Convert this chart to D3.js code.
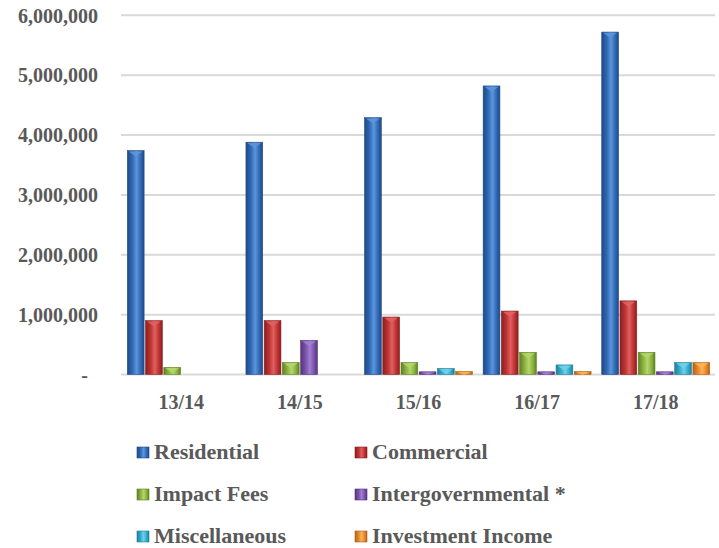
<!DOCTYPE html>
<html>
<head>
<meta charset="utf-8">
<script src="https://cdn.jsdelivr.net/npm/d3@7"></script>
<style>
  body { margin: 0; background: #fff; }
  svg text { font-family: "Liberation Serif", "Times New Roman", serif; font-weight: bold; fill: #595959; }
</style>
</head>
<body>
<div id="chart"></div>
<script>
// data
var categories = ["13/14", "14/15", "15/16", "16/17", "17/18"];
var seriesNames = ["Residential", "Commercial", "Impact Fees", "Intergovernmental *", "Miscellaneous", "Investment Income"];
var residential = [3740000, 3880000, 4290000, 4820000, 5720000];
var commercial = [900000, 900000, 960000, 1060000, 1230000];
var impactFees = [120000, 200000, 200000, 370000, 370000];
var intergovernmental = [0, 570000, 45000, 45000, 45000];
var miscellaneous = [0, 0, 100000, 160000, 200000];
var investmentIncome = [0, 0, 50000, 50000, 200000];
var yTicks = [0, 1000000, 2000000, 3000000, 4000000, 5000000, 6000000];

var seriesValues = [residential, commercial, impactFees, intergovernmental, miscellaneous, investmentIncome];
var colors = ["#2f68b4", "#bd3232", "#8bb23e", "#7b52ab", "#35abcb", "#e5882b"];
var darks = ["#1f4a85", "#8a2020", "#5f7f25", "#55357d", "#207f99", "#b0621a"];
var lights = ["#5d95dc", "#e06060", "#b3d66a", "#a07fd0", "#6fd0ea", "#ffb25a"];

var width = 719, height = 548;
var svg = d3.select('#chart').append('svg')
  .attr('width', width)
  .attr('height', height);

var defs = svg.append('defs');
seriesNames.forEach(function (name, i) {
  var g = defs.append('linearGradient')
    .attr('id', 'grad' + i)
    .attr('x1', '0%').attr('x2', '100%').attr('y1', '0%').attr('y2', '0%');
  g.append('stop').attr('offset', '0%').attr('stop-color', darks[i]);
  g.append('stop').attr('offset', '30%').attr('stop-color', colors[i]);
  g.append('stop').attr('offset', '55%').attr('stop-color', lights[i]);
  g.append('stop').attr('offset', '80%').attr('stop-color', colors[i]);
  g.append('stop').attr('offset', '100%').attr('stop-color', darks[i]);
});

var x0 = d3.scaleBand()
  .domain(categories)
  .range([122, 715])
  .paddingInner(0.09)
  .paddingOuter(0.045);

var x1 = d3.scaleBand()
  .domain(seriesNames)
  .range([0, x0.bandwidth()])
  .paddingInner(0.08);

var y = d3.scaleLinear()
  .domain([0, 6000000])
  .range([374.5, 15.3]);

// gridlines
svg.append('g')
  .selectAll('line')
  .data(yTicks)
  .enter()
  .append('line')
  .attr('x1', 121)
  .attr('x2', 715)
  .attr('y1', function (d) { return y(d); })
  .attr('y2', function (d) { return y(d); })
  .style('stroke', '#d9d9d9')
  .style('stroke-width', '2px');

// y axis labels
var yAxis = d3.axisLeft(y)
  .tickValues(yTicks)
  .tickSize(0)
  .tickPadding(0)
  .tickFormat(function (d) { return d === 0 ? '-' : d3.format(',')(d); });

var yg = svg.append('g')
  .attr('transform', 'translate(98,0)')
  .call(yAxis);
yg.select('.domain').remove();
yg.selectAll('text')
  .style('font-size', '20px')
  .attr('dy', '0.34em')
  .attr('dx', function (d) { return d === 0 ? -10 : 0; });

// x axis labels
var xAxis = d3.axisBottom(x0).tickSize(0).tickPadding(0);
var xg = svg.append('g')
  .attr('transform', 'translate(0,409)')
  .call(xAxis);
xg.select('.domain').remove();
xg.selectAll('text')
  .style('font-size', '20px')
  .attr('dy', 0)
  .attr('y', 0);

// bars
var groups = svg.append('g')
  .selectAll('g')
  .data(categories)
  .enter()
  .append('g')
  .attr('transform', function (d) { return 'translate(' + x0(d) + ',0)'; });

var bars = groups.selectAll('g.bar')
  .data(function (cat, ci) {
    return seriesNames.map(function (name, si) {
      return { name: name, si: si, value: seriesValues[si][ci] };
    });
  })
  .enter()
  .filter(function (d) { return d.value > 0; })
  .append('g')
  .attr('class', 'bar');

bars.append('rect')
  .attr('x', function (d) { return x1(d.name); })
  .attr('y', function (d) { return y(d.value); })
  .attr('width', x1.bandwidth())
  .attr('height', function (d) { return y(0) - y(d.value); })
  .style('fill', function (d) { return 'url(#grad' + d.si + ')'; })
  .style('stroke', function (d) { return darks[d.si]; })
  .style('stroke-width', '0.6px');

// little bevel highlight at the top of each bar
bars.append('path')
  .attr('d', function (d) {
    var bx = x1(d.name), bw = x1.bandwidth(), by = y(d.value);
    var h = Math.min(5, (y(0) - by) * 0.8);
    return 'M' + (bx + 1.5) + ',' + (by + 0.8) +
      'L' + (bx + bw - 1.5) + ',' + (by + 0.8) +
      'L' + (bx + bw / 2) + ',' + (by + 0.8 + h) + 'Z';
  })
  .style('fill', function (d) { return lights[d.si]; })
  .style('opacity', 0.9);

// legend
var legend = svg.append('g')
  .selectAll('g')
  .data(seriesNames)
  .enter()
  .append('g')
  .attr('transform', function (d, i) {
    var col = i % 2, row = Math.floor(i / 2);
    return 'translate(' + (col === 0 ? 137 : 355) + ',' + (459 + row * 42) + ')';
  });

legend.append('rect')
  .attr('x', 0)
  .attr('y', -12)
  .attr('width', 12)
  .attr('height', 11)
  .style('fill', function (d, i) { return 'url(#grad' + i + ')'; })
  .style('stroke', function (d, i) { return darks[i]; })
  .style('stroke-width', '0.6px');

legend.append('text')
  .attr('x', 17)
  .attr('y', 0)
  .style('font-size', '22px')
  .text(function (d) { return d; });
</script>
</body>
</html>
